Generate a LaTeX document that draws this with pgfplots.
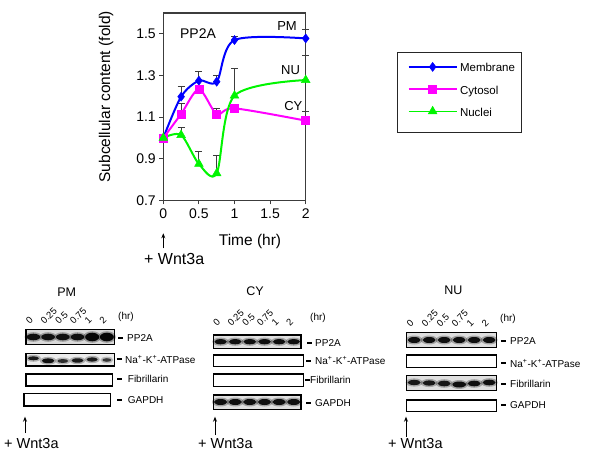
\documentclass[border=0pt]{standalone}
\usepackage{pgfplots}
\usepackage{pgfplotstable}
\pgfplotsset{compat=1.18}
\usepackage{fontspec}
\setmainfont{Liberation Sans}
\usetikzlibrary{arrows.meta}
\definecolor{mblue}{RGB}{0,0,255}
\definecolor{mmag}{RGB}{255,0,255}
\definecolor{mgreen}{RGB}{0,245,0}
\definecolor{axgray}{RGB}{60,60,60}

\pgfplotstableread{
x y
0 1.000
0.25 1.198
0.5 1.275
0.75 1.270
1 1.470
2 1.478
}\membrane
\pgfplotstableread{
x y
0 1.000
0.25 1.115
0.5 1.233
0.75 1.115
1 1.142
2 1.083
}\cytosol
\pgfplotstableread{
x y
0 1.000
0.25 1.014
0.5 0.875
0.75 0.830
1 1.203
2 1.278
}\nuclei
\pgfplotstableread{
x y e
0.25 1.198 0.050
0.5 1.275 0.043
0.75 1.270 0.030
1 1.470 0.019
2 1.478 0.042
}\membraneerr
\pgfplotstableread{
x y e
0.25 1.115 0.051
0.75 1.115 0.027
2 1.083 0.043
}\cytosolerr
\pgfplotstableread{
x y e
0.25 1.014 0.035
0.5 0.875 0.059
0.75 0.830 0.088
1 1.203 0.131
2 1.278 0.120
}\nucleierr

\newcommand{\band}[5]{%
  \fill[black,opacity=0.3*#5] (#1,#2) ellipse [x radius=#3pt+2pt, y radius=#4pt+1.5pt];
  \fill[black,opacity=#5] (#1,#2) ellipse [x radius=#3pt, y radius=#4pt];}
\newcommand{\lbl}[4]{% dash x, text x, y, text
  \draw[line width=1.8pt] (#1,#3) -- ({#1+5},#3);
  \node[anchor=west,inner sep=0pt,font=\fontsize{10}{12}\selectfont] at (#2,#3) {#4};}
\newcommand{\lanes}[3]{% first center, step, y
  \foreach \t [count=\i from 0] in {0,0.25,0.5,0.75,1,2}{
    \node[rotate=45,anchor=south west,inner sep=0pt,font=\fontsize{9.5}{11}\selectfont] at ({#1+\i*#2-3.5},#3) {\t};}}

\begin{document}
\begin{tikzpicture}
\path[use as bounding box] (0pt,0pt) rectangle (600pt,-463pt);
\begin{axis}[
  at={(163.3pt,-200.4pt)}, anchor=south west,
  scale only axis, width=142.4pt, height=187.4pt,
  xmin=0, xmax=2, ymin=0.7, ymax=1.6,
  clip=false,
  xtick={0,0.5,1,1.5,2}, ytick={0.7,0.9,1.1,1.3,1.5},
  tick pos=left, tick align=outside, major tick length=4pt,
  tick style={axgray, line width=1pt},
  axis line style={axgray, line width=1.2pt},
  /pgf/number format/assume math mode=true,
  yticklabel style={/pgf/number format/.cd, fixed, fixed zerofill, precision=1},
  ticklabel style={font=\fontsize{14}{16}\selectfont, text=black},
  xticklabel style={yshift=-1pt},
  ylabel={Subcellular content (fold)},
  ylabel style={at={(axis description cs:-0.402,0.553)}, anchor=center, font=\fontsize{15.5}{18}\selectfont},
  xlabel={Time (hr)},
  xlabel style={at={(axis description cs:0.609,-0.220)}, anchor=center, font=\fontsize{15.5}{18}\selectfont},
  legend style={at={(1.6833,0.7428)}, anchor=north west, draw=none, fill=none,
    inner xsep=0pt, inner ysep=0pt, row sep=11.2pt, column sep=2.6pt,
    font=\fontsize{11.5}{13}\selectfont,
    nodes={inner sep=0pt, text height=10.5pt, text depth=0.5pt}},
  legend cell align=left,
  legend image code/.code={
    \path[draw=none,fill=none] (0pt,-5.5pt) (53.6pt,5.5pt);
    \draw[line width=1.3pt, mark repeat=2, mark phase=2] plot coordinates {(5.3pt,0pt) (29.45pt,0pt) (53.6pt,0pt)};},
]
% error bars (upward only)
\addplot[draw=none, mark=none, forget plot, error bars/.cd, y dir=plus, y explicit,
  error bar style={draw=axgray, line width=1pt},
  error mark options={draw=axgray, line width=1pt, mark size=3.5pt, rotate=90}]
  table[x=x, y=y, y error=e] {\membraneerr};
\addplot[draw=none, mark=none, forget plot, error bars/.cd, y dir=plus, y explicit,
  error bar style={draw=axgray, line width=1pt},
  error mark options={draw=axgray, line width=1pt, mark size=3.5pt, rotate=90}]
  table[x=x, y=y, y error=e] {\cytosolerr};
\addplot[draw=none, mark=none, forget plot, error bars/.cd, y dir=plus, y explicit,
  error bar style={draw=axgray, line width=1pt},
  error mark options={draw=axgray, line width=1pt, mark size=3.5pt, rotate=90}]
  table[x=x, y=y, y error=e] {\nucleierr};
% series
\addplot[color=mblue, line width=2pt, smooth, tension=0.5, mark=diamond*, mark size=4.5pt,
  mark options={fill=mblue, line width=0.5pt}] table[x=x,y=y] {\membrane};
\addlegendentry{Membrane}
\addplot[color=mmag, line width=2pt, smooth, tension=0.5, mark=square*, mark size=4pt,
  mark options={fill=mmag, line width=0.5pt}] table[x=x,y=y] {\cytosol};
\addlegendentry{Cytosol}
\addplot[color=mgreen, line width=2pt, smooth, tension=0.5, mark=triangle*, mark size=5pt,
  mark options={fill=mgreen, line width=0.5pt}] table[x=x,y=y] {\nuclei};
\addlegendentry{Nuclei}
\end{axis}

\begin{scope}[x=1pt, y=-1pt]
% chart annotations
\node[font=\fontsize{14}{16}\selectfont] at (198,33.3) {PP2A};
\node[font=\fontsize{13}{15}\selectfont] at (287,25.7) {PM};
\node[font=\fontsize{13}{15}\selectfont] at (290.5,70) {NU};
\node[font=\fontsize{13}{15}\selectfont] at (293.3,105.7) {CY};
% legend frame
\draw[black!85, line width=1pt] (397.3,52.3) rectangle (521.7,132.3);
% top wnt3a
\draw[-{Stealth[length=5pt,width=4pt]}, line width=1pt] (163.3,248.3) -- (163.3,233.3);
\node[anchor=west, inner sep=0pt, font=\fontsize{16}{18}\selectfont] at (144,259.3) {+ Wnt3a};

% ================= PM panel =================
\node[font=\fontsize{12.5}{14}\selectfont] at (66.7,291.7) {PM};
\lanes{33.4}{14.7}{325}
\node[anchor=west,inner sep=0pt,font=\fontsize{10}{12}\selectfont] at (118,316.7) {(hr)};
\fill[gray!30] (26,329.3) rectangle (114.3,344.3);
\foreach \c in {33.4,48.1,62.8,77.5}{\band{\c}{337}{6.8}{3.3}{0.9}}
\band{92.2}{337}{7}{4.3}{0.95}
\band{106.9}{337}{7}{4.3}{0.95}
\draw[line width=1.1pt] (26,329.3) rectangle (114.3,344.3);
\fill[gray!15] (26,353.3) rectangle (114.3,366);
\band{33.4}{358.3}{5.5}{2}{0.85}
\band{48.1}{360.8}{6.3}{2.4}{0.9}
\band{62.8}{361}{5.5}{2}{0.75}
\band{77.5}{360.5}{6}{2.2}{0.85}
\band{92.2}{359.5}{5.5}{2.2}{0.85}
\band{106.9}{360}{4.5}{1.8}{0.7}
\draw[line width=1.1pt] (26,353.3) rectangle (114.3,366);
\draw[line width=1.1pt] (26,374) rectangle (112.3,386);
\draw[line width=1.1pt] (24,393.3) rectangle (110.7,406);
\lbl{118}{127}{338.3}{PP2A}
\lbl{116.7}{125}{359.3}{Na\textsuperscript{+}-K\textsuperscript{+}-ATPase}
\lbl{117}{127.7}{379.3}{Fibrillarin}
\lbl{117}{127.7}{400}{GAPDH}
\draw[-{Stealth[length=5pt,width=4pt]}, line width=1pt] (25,433) -- (25,416.7);
\node[anchor=west, inner sep=0pt, font=\fontsize{14.5}{16}\selectfont] at (4,443.3) {+ Wnt3a};

% ================= CY panel =================
\node[font=\fontsize{12.5}{14}\selectfont] at (255,290.7) {CY};
\lanes{220.6}{14.6}{327}
\node[anchor=west,inner sep=0pt,font=\fontsize{10}{12}\selectfont] at (310,318.3) {(hr)};
\fill[gray!25] (213.3,335) rectangle (301,348.3);
\foreach \c in {220.6,235.2,249.8,264.5,279.1,293.7}{\band{\c}{341.7}{6.3}{2.6}{0.9}}
\draw[line width=1.1pt] (213.3,335) rectangle (301,348.3);
\draw[line width=1.1pt] (213.3,355) rectangle (303.3,366.7);
\draw[line width=1.1pt] (213.3,374) rectangle (303.3,386.7);
\fill[gray!25] (213.3,395) rectangle (301,409.3);
\foreach \c in {220.6,235.2,249.8,264.5,279.1,293.7}{\band{\c}{402}{6.6}{3}{0.9}}
\draw[line width=1.1pt] (213.3,395) rectangle (301,409.3);
\lbl{307.3}{315}{342.7}{PP2A}
\lbl{306}{315}{360.7}{Na\textsuperscript{+}-K\textsuperscript{+}-ATPase}
\lbl{305.3}{310}{380}{Fibrillarin}
\lbl{306}{315}{403.3}{GAPDH}
\draw[-{Stealth[length=5pt,width=4pt]}, line width=1pt] (215,435) -- (215,416.7);
\node[anchor=west, inner sep=0pt, font=\fontsize{14.5}{16}\selectfont] at (198,443.3) {+ Wnt3a};

% ================= NU panel =================
\node[font=\fontsize{12.5}{14}\selectfont] at (453.3,290.7) {NU};
\lanes{414.2}{15}{327.5}
\node[anchor=west,inner sep=0pt,font=\fontsize{10}{12}\selectfont] at (500,319.3) {(hr)};
\fill[gray!25] (406.7,332.3) rectangle (496.7,347.3);
\foreach \c in {414.2,429.2,444.2,459.2,474.2,489.2}{\band{\c}{340}{6.4}{3}{0.9}}
\draw[line width=1.1pt] (406.7,332.3) rectangle (496.7,347.3);
\draw[line width=1.1pt] (406.7,355) rectangle (496.7,367.3);
\fill[gray!25] (406.7,375.7) rectangle (496.7,390.7);
\band{414.2}{382.5}{6.5}{2.6}{0.85}
\band{429.2}{383}{6.5}{2.6}{0.85}
\band{444.2}{383.5}{6.5}{2.8}{0.85}
\band{459.2}{384.5}{6.8}{3}{0.9}
\band{474.2}{383.5}{6.5}{2.8}{0.9}
\band{489.2}{382.5}{6.5}{2.8}{0.9}
\draw[line width=1.1pt] (406.7,375.7) rectangle (496.7,390.7);
\draw[line width=1.1pt] (406.7,400) rectangle (496.7,411.7);
\lbl{501}{510}{340.7}{PP2A}
\lbl{501}{510}{363.3}{Na\textsuperscript{+}-K\textsuperscript{+}-ATPase}
\lbl{501}{510}{384.3}{Fibrillarin}
\lbl{501}{510}{405}{GAPDH}
\draw[-{Stealth[length=5pt,width=4pt]}, line width=1pt] (406,436.7) -- (406,416.7);
\node[anchor=west, inner sep=0pt, font=\fontsize{14.5}{16}\selectfont] at (388,443.3) {+ Wnt3a};
\end{scope}
\end{tikzpicture}
\end{document}
